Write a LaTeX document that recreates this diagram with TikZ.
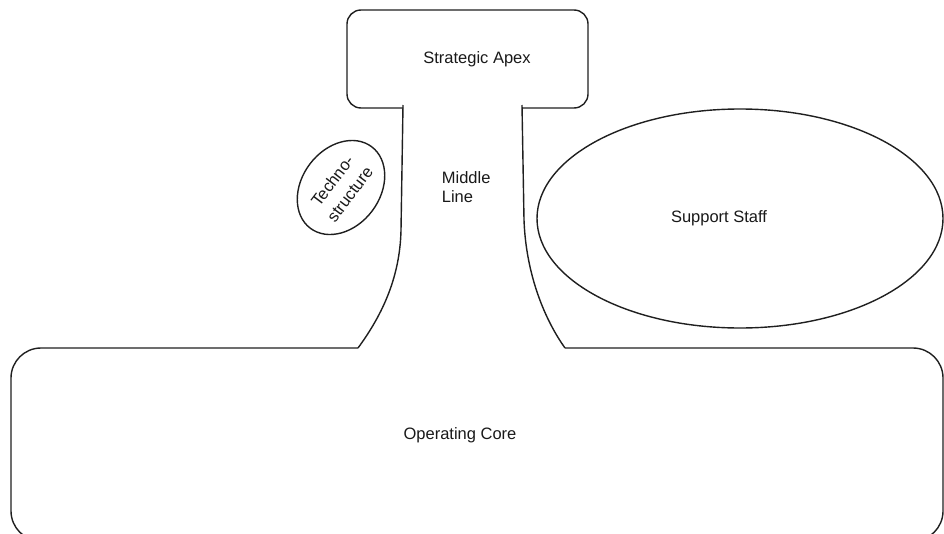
\documentclass[tikz,border=0pt]{standalone}
\usepackage{fontspec}
\setmainfont{Liberation Sans}
\usetikzlibrary{shapes.geometric}
\begin{document}
\begin{tikzpicture}[x=1pt,y=-1pt,
  outline/.style={line width=1.4pt, draw=black!88, line join=round},
  lbl/.style={font=\fontsize{16.5}{19}\selectfont, text=black!90, inner sep=0pt}]
\useasboundingbox (0,0) rectangle (944,533);
\clip (0,0) rectangle (944,533);

% ends of the middle line where it meets the apex and the core
\coordinate (apexL) at (403,108);
\coordinate (apexR) at (522,108);
\coordinate (coreL) at (358,348);
\coordinate (coreR) at (565,348);

% strategic apex: rounded box, open below where the middle line hangs
\draw[outline, rounded corners=14pt]
  (apexL) -- (347,108) -- (347,10) -- (588,10) -- (588,108) -- (apexR);

% flanks of the middle line, flaring out towards the operating core
\draw[outline] (403,105) -- (401,230) .. controls (400,280) and (380,318) .. (coreL);
\draw[outline] (522,105) -- (524,220) .. controls (526,275) and (545,320) .. (coreR);

% operating core: wide rounded base, open on top under the middle line
\draw[outline, rounded corners=30pt]
  (coreL) -- (11,348) -- (11,541) -- (943,541) -- (943,348) -- (coreR);

% support staff and technostructure
\node[outline, ellipse, minimum width=406pt, minimum height=219pt, inner sep=0pt] (staff) at (740,218.5) {};
\node[outline, ellipse, rotate=53, minimum width=102pt, minimum height=78pt,
      lbl, align=center, font=\fontsize{16.5}{22}\selectfont] (techno) at (341,187.5) {Techno-\\structure};

% labels
\node[lbl, anchor=base] (apex) at (477,63.5) {Strategic Apex};
\node[lbl, align=left, anchor=north west] (mid) at (441.7,171.5) {Middle\\Line};
\node[lbl, anchor=base] (stafflbl) at (719,222) {Support Staff};
\node[lbl, anchor=base] (core) at (460,439) {Operating Core};
\end{tikzpicture}
\end{document}
